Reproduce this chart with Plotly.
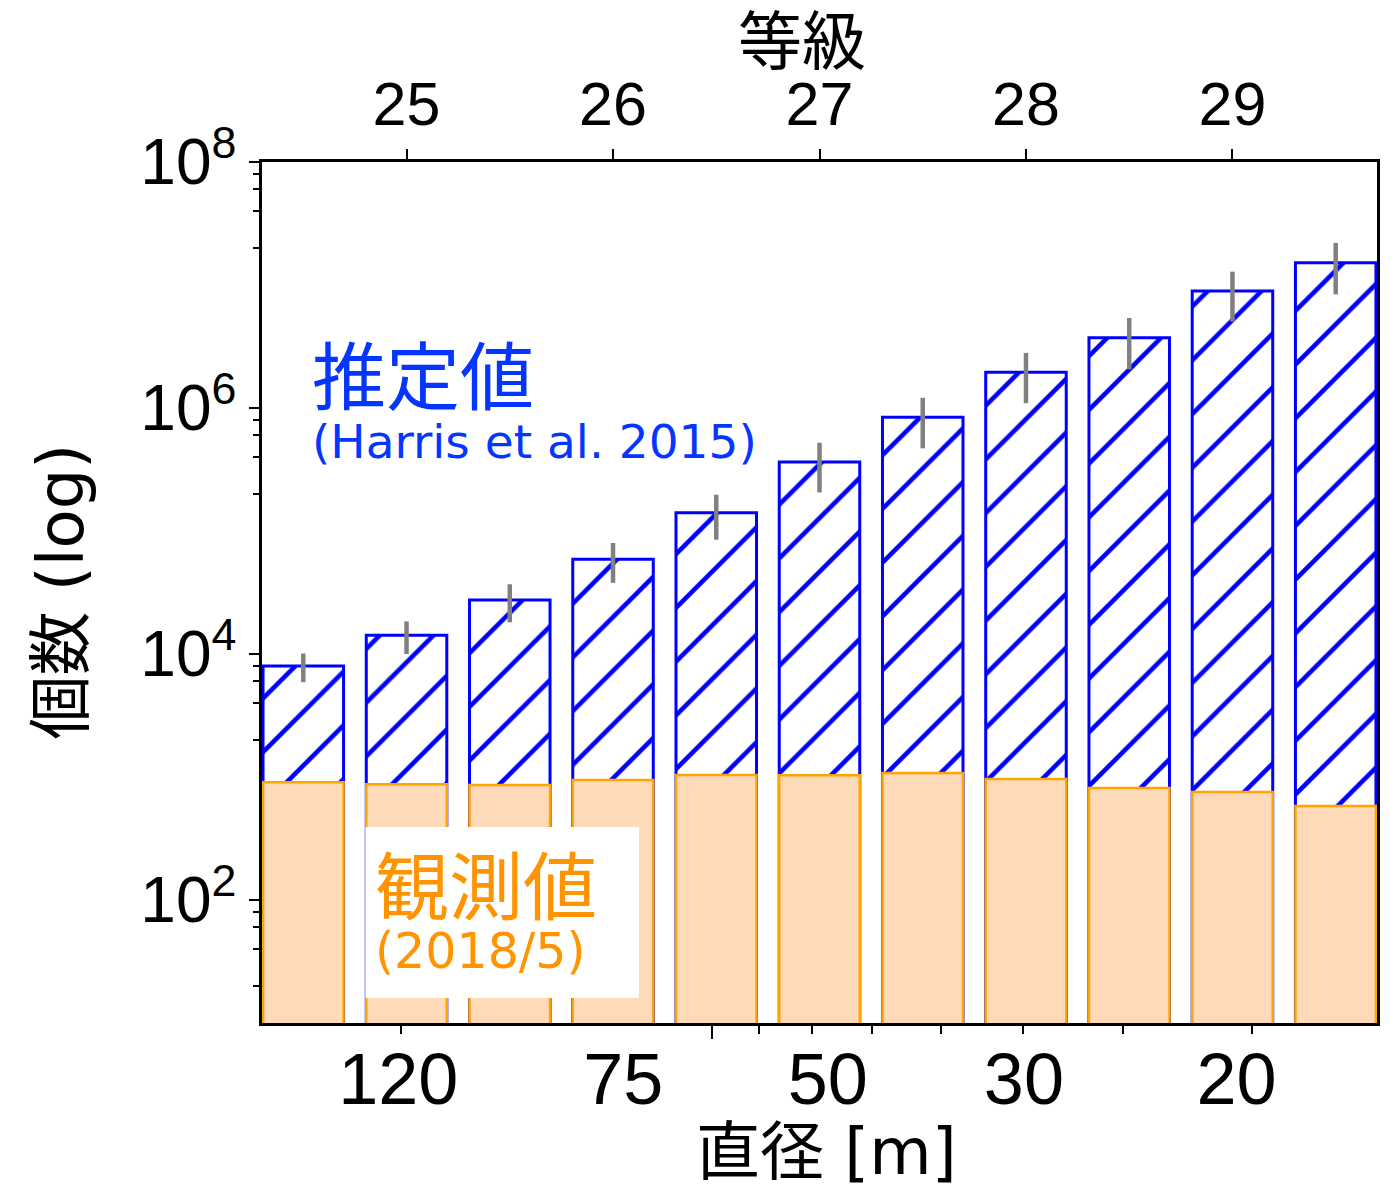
import numpy as np
import plotly.graph_objects as go

# Magnitude bins (bar centres) and counts
magnitude = [24.5, 25.0, 25.5, 26.0, 26.5, 27.0, 27.5, 28.0, 28.5, 29.0, 29.5]
estimated = [8000, 14200, 27500, 58900, 141000, 364000, 840000, 1.95e6, 3.73e6, 8.94e6, 1.52e7]
estimated_err = [2100, 4200, 9400, 21000, 56000, 158000, 370000, 855000, 1.67e6, 3.9e6, 6.8e6]
observed = [905, 872, 861, 945, 1038, 1035, 1078, 963, 814, 755, 581]

# Top axis: magnitude ticks
mag_ticks = [25, 26, 27, 28, 29]

# Bottom axis: diameter labels and log-spaced diameter tick marks
diam_label_pos = [24.96, 26.05, 27.04, 27.99, 29.02]
diam_labels = ["120", "75", "50", "30", "20"]
diam_major = [100]
diam_minor = [200, 90, 80, 70, 60, 50, 40, 30]
H_AT_100M = 26.478


def diam_to_mag(d):
    return H_AT_100M - 5.0 * np.log10(np.asarray(d, dtype=float) / 100.0)


# Count axis ticks
y_major = [1e2, 1e4, 1e6, 1e8]
y_major_text = ["10<sup>2</sup>", "10<sup>4</sup>", "10<sup>6</sup>", "10<sup>8</sup>"]
y_minor = [m * 10.0 ** e for e in (1, 3, 5, 7) for m in (2, 4, 6, 8)]

XRANGE = [24.3, 29.7]
TICK_FONT = "Liberation Sans, Arial, Noto Sans CJK JP"
TEXT_FONT = "DejaVu Sans, Noto Sans CJK JP"

fig = go.Figure()

fig.add_trace(go.Bar(
    x=magnitude, y=estimated, width=0.39,
    marker=dict(
        color="white",
        line=dict(color="#0000ff", width=3),
        pattern=dict(shape="/", fgcolor="#0000ff", bgcolor="white",
                     size=38, solidity=0.12, fillmode="replace"),
    ),
    error_y=dict(type="data", array=estimated_err, color="#808080",
                 thickness=4.5, width=0),
    showlegend=False, hoverinfo="skip",
))

fig.add_trace(go.Bar(
    x=magnitude, y=observed, width=0.39,
    marker=dict(color="#ffdab9", line=dict(color="#ffa500", width=2.5)),
    showlegend=False, hoverinfo="skip",
))

# Empty traces so the secondary x axes (magnitude on top, diameter labels below) get drawn
fig.add_trace(go.Scatter(x=[None], y=[None], xaxis="x2", mode="markers",
                         showlegend=False, hoverinfo="skip"))
fig.add_trace(go.Scatter(x=[None], y=[None], xaxis="x3", mode="markers",
                         showlegend=False, hoverinfo="skip"))

fig.update_layout(
    width=1391, height=1186,
    margin=dict(l=262, r=11, t=162, b=163),
    paper_bgcolor="white", plot_bgcolor="white",
    barmode="overlay",
    xaxis=dict(
        range=XRANGE, showgrid=False, zeroline=False,
        showline=True, linecolor="black", linewidth=2.5,
        tickmode="array", tickvals=list(diam_to_mag(diam_major)),
        ticks="outside", ticklen=13, tickwidth=2, tickcolor="black",
        showticklabels=False,
        minor=dict(tickmode="array", tickvals=list(diam_to_mag(diam_minor)),
                   ticks="outside", ticklen=8, tickwidth=1.5, tickcolor="black"),
    ),
    xaxis2=dict(
        range=XRANGE, overlaying="x", side="top", anchor="y",
        showgrid=False, zeroline=False,
        showline=True, linecolor="black", linewidth=2.5,
        tickmode="array", tickvals=mag_ticks,
        ticks="outside", ticklen=10, tickwidth=2, tickcolor="black",
        tickfont=dict(family=TICK_FONT, size=61, color="black"),
    ),
    xaxis3=dict(
        range=XRANGE, overlaying="x", side="bottom", anchor="y",
        showgrid=False, zeroline=False, showline=False,
        tickmode="array", tickvals=diam_label_pos, ticktext=diam_labels,
        ticks="", ticklabelstandoff=8,
        tickfont=dict(family=TICK_FONT, size=72, color="black"),
    ),
    yaxis=dict(
        type="log", range=[1, 8], showgrid=False, zeroline=False,
        showline=True, linecolor="black", linewidth=2.5, mirror=True,
        tickmode="array", tickvals=y_major, ticktext=y_major_text,
        ticks="outside", ticklen=10, tickwidth=2, tickcolor="black",
        tickfont=dict(family=TICK_FONT, size=64, color="black"),
        minor=dict(tickmode="array", tickvals=y_minor,
                   ticks="outside", ticklen=6, tickwidth=1.5, tickcolor="black"),
    ),
)

# White panel behind the observed-count label
fig.add_shape(type="rect", xref="paper", yref="paper",
              x0=0.0930, x1=0.3381, y0=0.0290, y1=0.2276,
              fillcolor="white", line=dict(width=0), layer="above")

annotations = [
    dict(text="推定値", x=0.0429, y=0.749, xanchor="left", yanchor="middle",
         font=dict(family=TEXT_FONT, size=74, color="#0536ff")),
    dict(text="(Harris et al. 2015)", x=0.0429, y=0.675, xanchor="left", yanchor="middle",
         font=dict(family=TEXT_FONT, size=47, color="#0536ff")),
    dict(text="観測値", x=0.0995, y=0.1568, xanchor="left", yanchor="middle",
         font=dict(family=TEXT_FONT, size=74, color="#ff9400")),
    dict(text="(2018/5)", x=0.0995, y=0.0825, xanchor="left", yanchor="middle",
         font=dict(family=TEXT_FONT, size=49, color="#ff9400")),
    dict(text="等級", x=0.4839, y=1.1394, xanchor="center", yanchor="middle",
         font=dict(family=TEXT_FONT, size=64, color="black")),
    dict(text="直径 [m]", x=0.5063, y=-0.1498, xanchor="center", yanchor="middle",
         font=dict(family=TEXT_FONT, size=64, color="black")),
    dict(text="個数 (log)", x=-0.1807, y=0.5006, xanchor="center", yanchor="middle",
         textangle=-90, font=dict(family=TEXT_FONT, size=64, color="black")),
]
for a in annotations:
    fig.add_annotation(xref="paper", yref="paper", showarrow=False, **a)

fig.write_html("out.html")
